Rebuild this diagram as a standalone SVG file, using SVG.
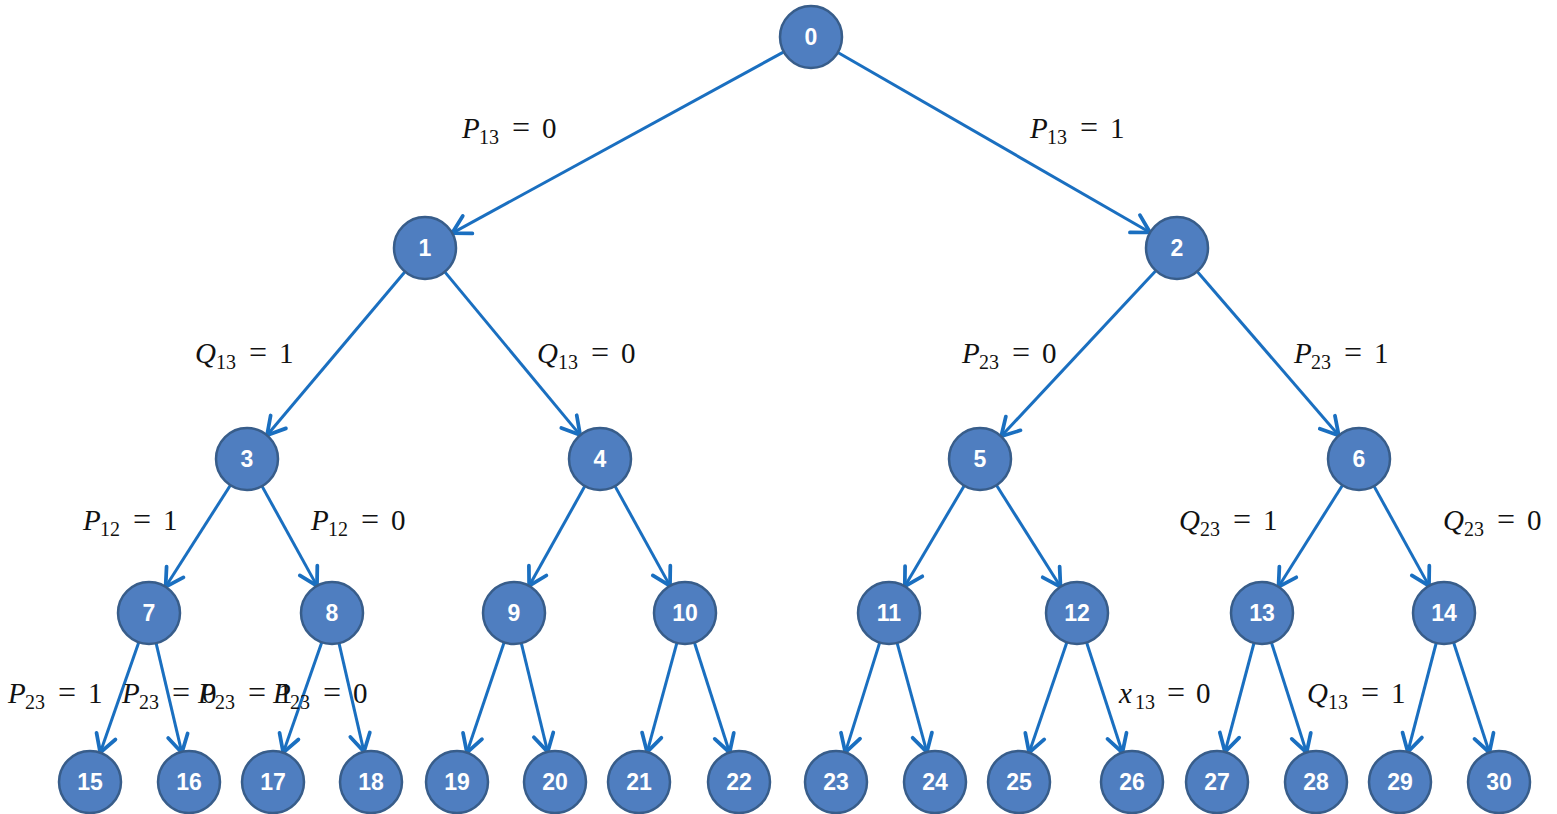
<svg xmlns="http://www.w3.org/2000/svg" width="1557" height="814" viewBox="0 0 1557 814">
<style>
.n circle{fill:#4F7EC0;stroke:#385D8A;stroke-width:2.5}
.n text{fill:#fff;font-family:"Liberation Sans",Arial,sans-serif;font-weight:bold;font-size:23px;text-anchor:middle;dominant-baseline:central}
.e line{stroke:#1A6FC0;stroke-width:3;marker-end:url(#ah)}
.l text{font-family:"Liberation Serif","Times New Roman",serif;font-size:29px;fill:#111}
.l .v{font-style:italic}
.l .s{font-size:20px}
.l .q{font-size:32px}
</style>
<defs>
<marker id="ah" markerUnits="userSpaceOnUse" markerWidth="30" markerHeight="30" refX="0" refY="0" viewBox="-16 -12 20 24" orient="auto" overflow="visible">
<path d="M-14,-8 L0,0 L-14,8" fill="none" stroke="#1A6FC0" stroke-width="3" stroke-linecap="round" stroke-linejoin="round"/>
</marker>
</defs>
<rect width="1557" height="814" fill="#fff"/>
<g id="connectors" class="e">
<line x1="783.8" y1="51.9" x2="452.2" y2="233.1"/>
<line x1="837.9" y1="52.5" x2="1150.1" y2="232.5"/>
<line x1="405.0" y1="271.7" x2="267.0" y2="435.3"/>
<line x1="444.8" y1="271.9" x2="580.2" y2="435.1"/>
<line x1="1155.8" y1="270.7" x2="1001.2" y2="436.3"/>
<line x1="1197.2" y1="271.5" x2="1338.8" y2="435.5"/>
<line x1="230.4" y1="485.2" x2="165.6" y2="586.8"/>
<line x1="262.0" y1="486.1" x2="317.0" y2="585.9"/>
<line x1="584.9" y1="486.1" x2="529.1" y2="585.9"/>
<line x1="615.0" y1="486.1" x2="670.0" y2="585.9"/>
<line x1="964.2" y1="485.7" x2="904.8" y2="586.3"/>
<line x1="996.5" y1="485.2" x2="1060.5" y2="586.8"/>
<line x1="1342.5" y1="485.2" x2="1278.5" y2="586.8"/>
<line x1="1374.0" y1="486.1" x2="1429.0" y2="585.9"/>
<line x1="138.8" y1="642.3" x2="100.2" y2="752.7"/>
<line x1="156.1" y1="643.2" x2="181.9" y2="752.8"/>
<line x1="321.8" y1="642.3" x2="283.2" y2="752.7"/>
<line x1="339.0" y1="643.2" x2="364.0" y2="751.8"/>
<line x1="504.1" y1="642.4" x2="466.9" y2="752.6"/>
<line x1="521.3" y1="643.1" x2="547.7" y2="751.9"/>
<line x1="676.9" y1="642.9" x2="647.1" y2="752.1"/>
<line x1="694.4" y1="642.5" x2="729.6" y2="752.5"/>
<line x1="879.7" y1="642.6" x2="845.3" y2="752.4"/>
<line x1="897.1" y1="642.9" x2="926.9" y2="752.1"/>
<line x1="1066.9" y1="642.3" x2="1029.1" y2="752.7"/>
<line x1="1086.6" y1="642.5" x2="1122.4" y2="752.5"/>
<line x1="1254.0" y1="643.0" x2="1225.0" y2="752.0"/>
<line x1="1271.4" y1="642.5" x2="1306.6" y2="752.5"/>
<line x1="1436.2" y1="643.0" x2="1407.8" y2="752.0"/>
<line x1="1453.6" y1="642.5" x2="1489.4" y2="752.5"/>
</g>
<g id="nodes">
<g id="n0" class="n"><circle cx="811" cy="37" r="31"/><text x="811" y="37">0</text></g>
<g id="n1" class="n"><circle cx="425" cy="248" r="31"/><text x="425" y="248">1</text></g>
<g id="n2" class="n"><circle cx="1177" cy="248" r="31"/><text x="1177" y="248">2</text></g>
<g id="n3" class="n"><circle cx="247" cy="459" r="31"/><text x="247" y="459">3</text></g>
<g id="n4" class="n"><circle cx="600" cy="459" r="31"/><text x="600" y="459">4</text></g>
<g id="n5" class="n"><circle cx="980" cy="459" r="31"/><text x="980" y="459">5</text></g>
<g id="n6" class="n"><circle cx="1359" cy="459" r="31"/><text x="1359" y="459">6</text></g>
<g id="n7" class="n"><circle cx="149" cy="613" r="31"/><text x="149" y="613">7</text></g>
<g id="n8" class="n"><circle cx="332" cy="613" r="31"/><text x="332" y="613">8</text></g>
<g id="n9" class="n"><circle cx="514" cy="613" r="31"/><text x="514" y="613">9</text></g>
<g id="n10" class="n"><circle cx="685" cy="613" r="31"/><text x="685" y="613">10</text></g>
<g id="n11" class="n"><circle cx="889" cy="613" r="31"/><text x="889" y="613">11</text></g>
<g id="n12" class="n"><circle cx="1077" cy="613" r="31"/><text x="1077" y="613">12</text></g>
<g id="n13" class="n"><circle cx="1262" cy="613" r="31"/><text x="1262" y="613">13</text></g>
<g id="n14" class="n"><circle cx="1444" cy="613" r="31"/><text x="1444" y="613">14</text></g>
<g id="n15" class="n"><circle cx="90" cy="782" r="31"/><text x="90" y="782">15</text></g>
<g id="n16" class="n"><circle cx="189" cy="782" r="31"/><text x="189" y="782">16</text></g>
<g id="n17" class="n"><circle cx="273" cy="782" r="31"/><text x="273" y="782">17</text></g>
<g id="n18" class="n"><circle cx="371" cy="782" r="31"/><text x="371" y="782">18</text></g>
<g id="n19" class="n"><circle cx="457" cy="782" r="31"/><text x="457" y="782">19</text></g>
<g id="n20" class="n"><circle cx="555" cy="782" r="31"/><text x="555" y="782">20</text></g>
<g id="n21" class="n"><circle cx="639" cy="782" r="31"/><text x="639" y="782">21</text></g>
<g id="n22" class="n"><circle cx="739" cy="782" r="31"/><text x="739" y="782">22</text></g>
<g id="n23" class="n"><circle cx="836" cy="782" r="31"/><text x="836" y="782">23</text></g>
<g id="n24" class="n"><circle cx="935" cy="782" r="31"/><text x="935" y="782">24</text></g>
<g id="n25" class="n"><circle cx="1019" cy="782" r="31"/><text x="1019" y="782">25</text></g>
<g id="n26" class="n"><circle cx="1132" cy="782" r="31"/><text x="1132" y="782">26</text></g>
<g id="n27" class="n"><circle cx="1217" cy="782" r="31"/><text x="1217" y="782">27</text></g>
<g id="n28" class="n"><circle cx="1316" cy="782" r="31"/><text x="1316" y="782">28</text></g>
<g id="n29" class="n"><circle cx="1400" cy="782" r="31"/><text x="1400" y="782">29</text></g>
<g id="n30" class="n"><circle cx="1499" cy="782" r="31"/><text x="1499" y="782">30</text></g>
</g>
<g id="labels" class="l">
<g transform="translate(462,138)"><text><tspan class="v" x="0">P</tspan><tspan class="s" x="17" dy="6">13</tspan><tspan class="q" x="50" dy="-6">=</tspan><tspan x="80">0</tspan></text></g>
<g transform="translate(1030,138)"><text><tspan class="v" x="0">P</tspan><tspan class="s" x="17" dy="6">13</tspan><tspan class="q" x="50" dy="-6">=</tspan><tspan x="80">1</tspan></text></g>
<g transform="translate(195,363)"><text><tspan class="v" x="0">Q</tspan><tspan class="s" x="21" dy="6">13</tspan><tspan class="q" x="54" dy="-6">=</tspan><tspan x="84">1</tspan></text></g>
<g transform="translate(537,363)"><text><tspan class="v" x="0">Q</tspan><tspan class="s" x="21" dy="6">13</tspan><tspan class="q" x="54" dy="-6">=</tspan><tspan x="84">0</tspan></text></g>
<g transform="translate(962,363)"><text><tspan class="v" x="0">P</tspan><tspan class="s" x="17" dy="6">23</tspan><tspan class="q" x="50" dy="-6">=</tspan><tspan x="80">0</tspan></text></g>
<g transform="translate(1294,363)"><text><tspan class="v" x="0">P</tspan><tspan class="s" x="17" dy="6">23</tspan><tspan class="q" x="50" dy="-6">=</tspan><tspan x="80">1</tspan></text></g>
<g transform="translate(83,530)"><text><tspan class="v" x="0">P</tspan><tspan class="s" x="17" dy="6">12</tspan><tspan class="q" x="50" dy="-6">=</tspan><tspan x="80">1</tspan></text></g>
<g transform="translate(311,530)"><text><tspan class="v" x="0">P</tspan><tspan class="s" x="17" dy="6">12</tspan><tspan class="q" x="50" dy="-6">=</tspan><tspan x="80">0</tspan></text></g>
<g transform="translate(1179,530)"><text><tspan class="v" x="0">Q</tspan><tspan class="s" x="21" dy="6">23</tspan><tspan class="q" x="54" dy="-6">=</tspan><tspan x="84">1</tspan></text></g>
<g transform="translate(1443,530)"><text><tspan class="v" x="0">Q</tspan><tspan class="s" x="21" dy="6">23</tspan><tspan class="q" x="54" dy="-6">=</tspan><tspan x="84">0</tspan></text></g>
<g transform="translate(8,703)"><text><tspan class="v" x="0">P</tspan><tspan class="s" x="17" dy="6">23</tspan><tspan class="q" x="50" dy="-6">=</tspan><tspan x="80">1</tspan></text></g>
<g transform="translate(122,703)"><text><tspan class="v" x="0">P</tspan><tspan class="s" x="17" dy="6">23</tspan><tspan class="q" x="50" dy="-6">=</tspan><tspan x="80">0</tspan></text></g>
<g transform="translate(198,703)"><text><tspan class="v" x="0">P</tspan><tspan class="s" x="17" dy="6">23</tspan><tspan class="q" x="50" dy="-6">=</tspan><tspan x="80">1</tspan></text></g>
<g transform="translate(273,703)"><text><tspan class="v" x="0">P</tspan><tspan class="s" x="17" dy="6">23</tspan><tspan class="q" x="50" dy="-6">=</tspan><tspan x="80">0</tspan></text></g>
<g transform="translate(1119,703)"><text><tspan class="v" x="0">x</tspan><tspan class="s" x="16" dy="6">13</tspan><tspan class="q" x="48" dy="-6">=</tspan><tspan x="77">0</tspan></text></g>
<g transform="translate(1307,703)"><text><tspan class="v" x="0">Q</tspan><tspan class="s" x="21" dy="6">13</tspan><tspan class="q" x="54" dy="-6">=</tspan><tspan x="84">1</tspan></text></g>
</g>
</svg>
